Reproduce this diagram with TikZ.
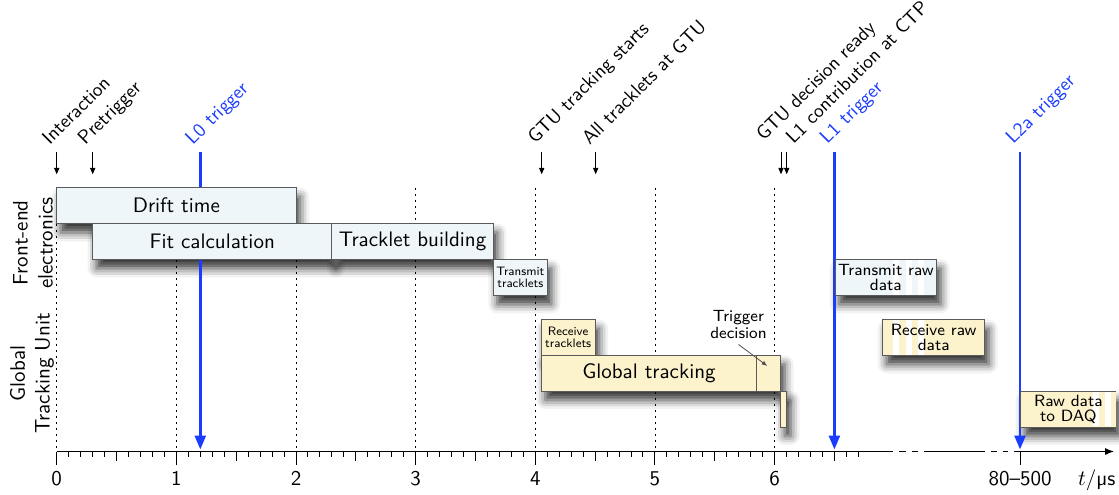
\documentclass[tikz,border=0pt]{standalone}
\usepackage{fontspec}
\usetikzlibrary{arrows.meta,backgrounds,shadows.blur}

\definecolor{feefill}{RGB}{238,246,250}
\definecolor{gtufill}{RGB}{252,242,203}
\definecolor{boxline}{RGB}{90,90,90}
\definecolor{trigblue}{RGB}{26,60,255}
\definecolor{ptrgray}{RGB}{80,80,80}

\begin{document}
\begin{tikzpicture}[x=0.5pt,y=-0.5pt,
  every node/.style={font=\sffamily},
  fbig/.style={font=\sffamily\fontsize{10.5}{12.5}\selectfont},
  fmid/.style={font=\sffamily\fontsize{8.15}{7.4}\selectfont},
  fnote/.style={font=\sffamily\fontsize{8.1}{8.3}\selectfont},
  fsmall/.style={font=\sffamily\fontsize{6.1}{6}\selectfont},
  fevent/.style={font=\sffamily\fontsize{9.7}{11.6}\selectfont},
  boxspan/.style n args={4}{anchor=north west, at={(#1,#2)},
     minimum width={(#3-#1)*0.5pt}, minimum height={(#4-#2)*0.5pt}},
  procbox/.style={draw=boxline, line width=0.5pt, inner sep=0pt, outer sep=0pt, align=center},
  fee/.style={procbox, fill=feefill},
  gtu/.style={procbox, fill=gtufill},
  boxedge/.style={draw=boxline, line width=0.5pt},
  shadowbox/.style={blur shadow={shadow xshift=2pt, shadow yshift=-4.5pt,
     shadow blur radius=4.5pt, shadow opacity=80}},
  gridline/.style={line width=0.45pt, dash pattern=on 1.3pt off 1.7pt},
  trig/.style={trigblue, line width=1.3pt, -{Triangle[length=7pt,width=5.5pt]}},
  evarrow/.style={line width=0.5pt, -{Triangle[length=3.2pt,width=2.6pt]}},
  evlabel/.style={fevent, rotate=45, anchor=base west, inner sep=0pt},
  ptr/.style={ptrgray, line width=0.4pt, -{Latex[length=2.8pt,width=2.2pt]}},
  axisline/.style={line width=0.6pt},
  tickmark/.style={line width=0.5pt},
]
\useasboundingbox (0,0) rectangle (1119,494);

% ---------- front-end electronics ----------
\node[fee,fbig,boxspan={56.7}{187.7}{296}{223.5}] (drift) {Drift time};
\node[fee,fbig,boxspan={92.6}{223.5}{331.9}{259.4}] (fit) {Fit calculation};
\node[fee,fbig,boxspan={331.9}{223.5}{493.4}{259.4}] (tbuild) {Tracklet building};
\node[fee,fsmall,boxspan={493.4}{259.4}{547.3}{295.3}] (txtrk) {Transmit\\tracklets};
\node[fee,boxspan={835}{259.4}{936.7}{295.3}] (txraw) {};

% ---------- global tracking unit ----------
\node[gtu,fsmall,boxspan={541.3}{319.7}{595.1}{355.3}] (rxtrk) {Receive\\tracklets};
\node[gtu,boxspan={541.3}{355.3}{780.6}{391}] (gtrack) {};
\node[procbox,boxspan={756.7}{355.3}{780.6}{391}] (tdbox) {};
\node[fbig] (gtracktext) at (649,373.2) {Global tracking};
\node[gtu,boxspan={780.6}{391}{786.7}{427}] (tail) {};
\node[gtu,boxspan={882.7}{319.7}{984.7}{355.3}] (rxraw) {};
\node[gtu,draw=none,boxspan={1020.7}{391}{1116}{427}] (daq) {};
\draw[boxedge] (daq.north east) -- (daq.north west) -- (daq.south west) -- (daq.south east);

% time-axis break carried through the late boxes
\foreach \a/\b in {893.3/899.3, 905.5/911.5, 918/924.3}{
  \fill[white] (\a,260) rectangle (\b,294.7);
  \fill[white] (\a,320.3) rectangle (\b,354.7);
}
\foreach \a/\b in {1092.5/1098.5, 1104.5/1110.5}
  \fill[white] (\a,391.6) rectangle (\b,426.4);

\node[fmid,align=center] (txrawtext) at (txraw.center) {Transmit raw\\data};
\node[fmid,align=center] (rxrawtext) at (rxraw.center) {Receive raw\\data};
\node[fmid,align=center] (daqtext) at (daq.center) {Raw data\\to DAQ};

% trigger decision note
\node[fnote,align=center,inner sep=0pt] (tdlabel) at (738.5,324.5) {Trigger\\decision};
\coordinate (tdtip) at (767.3,366);
\draw[ptr] ([yshift=-2.8pt]tdlabel.south) -- (tdtip);

% ---------- row titles ----------
\node[fbig,rotate=90,align=center] (feelabel) at (33,243) {Front-end\\electronics};
\node[fbig,rotate=90,align=center] (gtulabel) at (32,373.5) {Global\\Tracking Unit};

% ---------- time axis ----------
\coordinate (O) at (56.7,451.5);
\coordinate (axend) at (1114,451.5);
\draw[axisline] (O) -- (893.3,451.5)
  (899.3,451.5) -- (905.5,451.5) (911.5,451.5) -- (918,451.5)
  (924.3,451.5) -- (984.5,451.5)
  (990.5,451.5) -- (996.7,451.5) (1002.5,451.5) -- (1008.3,451.5);
\draw[axisline,-{Latex[length=4.5pt,width=3.6pt]}] (1014,451.5) -- (axend);

\foreach \i in {0,...,67}{
  \pgfmathsetmacro\tl{mod(\i,10)==0 ? 13 : (mod(\i,5)==0 ? 9 : 5.5)}
  \draw[tickmark] ({56.7+11.965*\i},451.5) -- ++(0,\tl);
}
\draw[tickmark] (1020,451.5) -- ++(0,13);
\foreach \i in {0,...,6}
  \node[fbig,anchor=base] (tl\i) at ({56.7+119.65*\i},485) {\i};
\node[fbig,anchor=base] (tlfar) at (1020,485) {80--500};
\node[fbig,anchor=base] (unit) at (1096.7,485) {$t$/µs};

% ---------- events ----------
\coordinate (e-int) at (56.7,152);
\coordinate (e-pre) at (92.7,152);
\coordinate (e-gts) at (541.7,152);
\coordinate (e-all) at (595.7,152);
\coordinate (e-dec) at (781,152);
\coordinate (e-ctp) at (786.7,152);
\foreach \e in {e-int,e-pre,e-gts,e-all,e-dec,e-ctp}
  \draw[evarrow] (\e) -- ++(0,22.3);

\node[evlabel] (l-int) at (49.5,146) {Interaction};
\node[evlabel] (l-pre) at (85,146) {Pretrigger};
\node[evlabel] (l-gts) at (535,145) {GTU tracking starts};
\node[evlabel] (l-all) at (589.5,146) {All tracklets at GTU};
\node[evlabel] (l-dec) at (763.5,142) {GTU decision ready};
\node[evlabel] (l-ctp) at (793.3,145) {L1 contribution at CTP};
\node[evlabel,text=trigblue] (l-l0) at (192.7,146) {L0 trigger};
\node[evlabel,text=trigblue] (l-l1) at (827.2,145) {L1 trigger};
\node[evlabel,text=trigblue] (l-l2) at (1013,145) {L2a trigger};

\coordinate (t-l0) at (200.3,152);
\coordinate (t-l1) at (834.4,152);
\coordinate (t-l2) at (1020,152);

% ---------- layers behind the boxes ----------
\begin{scope}[on background layer]
  \foreach \n in {drift,fit,tbuild,txtrk,rxtrk,gtrack,tail,txraw,rxraw,daq}
    \path[shadowbox] (\n.north west) rectangle (\n.south east);
  \foreach \i in {0,...,6}
    \draw[gridline] ({56.7+119.65*\i},187.5) -- ({56.7+119.65*\i},451.5);
  \foreach \t in {t-l0,t-l1,t-l2}
    \draw[trig,shorten >=1pt] (\t) -- (\t |- O);
\end{scope}
\end{tikzpicture}
\end{document}
